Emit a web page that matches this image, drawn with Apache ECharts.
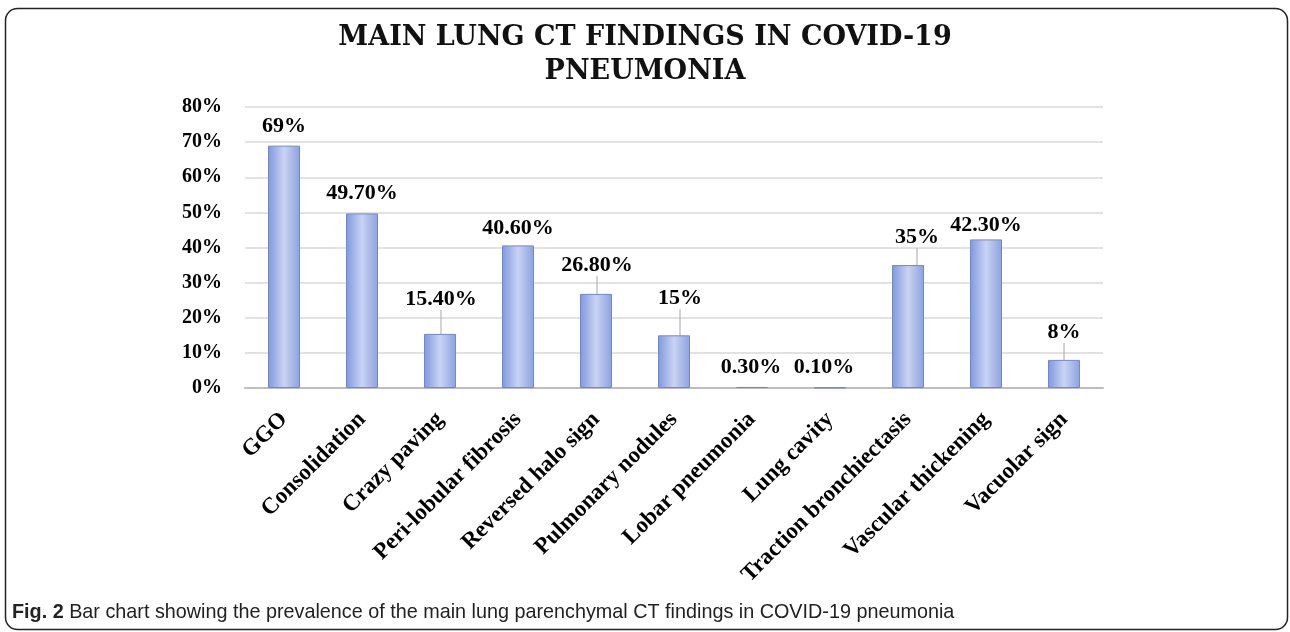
<!DOCTYPE html>
<html>
<head>
<meta charset="utf-8">
<script src="https://cdn.jsdelivr.net/npm/echarts@6/dist/echarts.min.js"></script>
<style>html,body{margin:0;padding:0;background:#fff;}#c{width:1290px;height:632px;}</style>
</head>
<body>
<div id="c"></div>
<script>
var categories = ['GGO','Consolidation','Crazy paving','Peri-lobular fibrosis','Reversed halo sign','Pulmonary nodules','Lobar pneumonia','Lung cavity','Traction bronchiectasis','Vascular thickening','Vacuolar sign'];
var values = [69, 49.7, 15.4, 40.6, 26.8, 15, 0.3, 0.1, 35, 42.3, 8];
var yTicks = [0, 10, 20, 30, 40, 50, 60, 70, 80];

// label nudges (display only)
var labelShift = [[0,-3],[0,-4],[1,-19],[0,-1],[1,-13],[6,-21],[-1,-4],[-6,-4],[9,-12],[0,2],[0,-12]];
var leaderIdx = [2,4,5,8,10];

var chart = echarts.init(document.getElementById('c'), null, {renderer:'canvas'});
var serif = '"Liberation Serif","Times New Roman",serif';
var seriesData = values.map(function(v,i){
  return {value:v, labelLine:{show: leaderIdx.indexOf(i) >= 0}};
});
var option = {
  backgroundColor:'#fff',
  animation:false,
  title:{
    text:'MAIN LUNG CT FINDINGS IN COVID-19\nPNEUMONIA',
    left:'center', top:16,
    textStyle:{fontFamily:'"DejaVu Serif",serif', fontWeight:'bold', fontSize:27, color:'#111', lineHeight:34}
  },
  grid:{left:245, right:187, top:107, bottom:244, containLabel:false},
  xAxis:{
    type:'category', data:categories,
    axisLine:{lineStyle:{color:'#bdbdbd', width:2}},
    axisTick:{show:false},
    axisLabel:{rotate:45, interval:0, margin:28, color:'#000', fontFamily:serif, fontWeight:'bold', fontSize:23}
  },
  yAxis:{
    type:'value', min:yTicks[0], max:yTicks[yTicks.length-1], interval:yTicks[1]-yTicks[0],
    axisLine:{show:false}, axisTick:{show:false},
    splitLine:{lineStyle:{color:'#d9d9d9', width:1.5}},
    axisLabel:{formatter:'{value}%', margin:23, color:'#000', fontFamily:serif, fontWeight:'bold', fontSize:20}
  },
  series:[{
    type:'bar', data:seriesData, barWidth:32,
    itemStyle:{
      color:new echarts.graphic.LinearGradient(0,0,1,0,[
        {offset:0, color:'#7f98dc'},{offset:0.5, color:'#c9d3f2'},{offset:1, color:'#8ba1e0'}
      ]),
      borderColor:'#7088d2', borderWidth:1
    },
    label:{
      show:true, position:'top', distance:5, color:'#000', fontFamily:serif, fontWeight:'bold', fontSize:22,
      formatter:function(p){ var v=p.value; return (Number.isInteger(v)? v : v.toFixed(2)) + '%'; }
    },
    labelLine:{show:false, lineStyle:{color:'#a6a6a6', width:1}},
    labelLayout:function(p){ var s=labelShift[p.dataIndex]; return {dx:s[0], dy:s[1]}; }
  }],
  graphic:[
    {type:'rect', shape:{x:5.5, y:8.5, width:1282, height:621, r:12}, style:{fill:'none', stroke:'#222', lineWidth:1.5}, z:-1},
    {type:'text', left:12, top:603, style:{
      text:'{b|Fig. 2} Bar chart showing the prevalence of the main lung parenchymal CT findings in COVID-19 pneumonia',
      fontFamily:'"Liberation Sans Narrow","Arial Narrow","Liberation Sans",sans-serif', fontSize:19.8, fill:'#222',
      rich:{b:{fontWeight:'bold', fontFamily:'"Liberation Sans Narrow","Arial Narrow","Liberation Sans",sans-serif', fontSize:19.8, fill:'#222'}}
    }}
  ]
};
chart.setOption(option);
</script>
</body>
</html>
